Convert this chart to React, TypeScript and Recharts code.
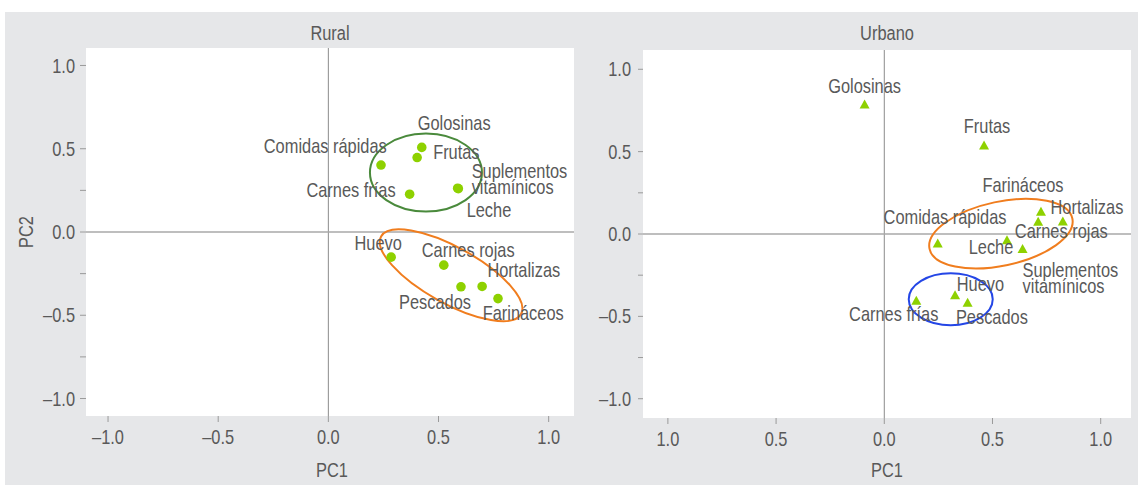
import React from 'react';
import {
  ScatterChart,
  Scatter,
  XAxis,
  YAxis,
  CartesianGrid,
  ReferenceLine,
  ReferenceDot,
  Label,
} from 'recharts';

// ---------- data ----------
const RURAL_FOODS = ['Golosinas', 'Frutas', 'Comidas rápidas', 'Carnes frías', 'Suplementos vitamínicos', 'Leche', 'Huevo', 'Carnes rojas', 'Pescados', 'Hortalizas', 'Farináceos'];
const RURAL_PC1 = [0.424, 0.403, 0.239, 0.369, 0.587, 0.59, 0.285, 0.524, 0.602, 0.698, 0.77];
const RURAL_PC2 = [0.508, 0.447, 0.402, 0.227, 0.263, 0.26, -0.151, -0.199, -0.329, -0.327, -0.4];

const URBAN_FOODS = ['Golosinas', 'Frutas', 'Farináceos', 'Carnes rojas', 'Hortalizas', 'Comidas rápidas', 'Leche', 'Suplementos vitamínicos', 'Huevo', 'Pescados', 'Carnes frías'];
const URBAN_PC1 = [-0.091, 0.461, 0.724, 0.711, 0.825, 0.247, 0.567, 0.639, 0.327, 0.385, 0.148];
const URBAN_PC2 = [0.788, 0.54, 0.138, 0.077, 0.079, -0.056, -0.035, -0.089, -0.37, -0.415, -0.403];

const X_TICKS = [-1, -0.5, 0, 0.5, 1];
const Y_TICKS = [-1, -0.75, -0.5, -0.25, 0, 0.25, 0.5, 1];

// group ellipses: centre in data units
const RURAL_GROUPS = [
  { cx: 0.443, cy: 0.357, color: '#4a8a3c' },
  { cx: 0.557, cy: -0.26, color: '#f07d1e' },
];
const URBAN_GROUPS = [
  { cx: 0.539, cy: 0.002, color: '#f07d1e' },
  { cx: 0.307, cy: -0.396, color: '#2446e6' },
];

// ---------- layout / style ----------
const RURAL_ELLIPSE_SHAPE = [
  { rx: 56, ry: 39, rot: 0 },
  { rx: 80, ry: 28, rot: 29 },
];
const URBAN_ELLIPSE_SHAPE = [
  { rx: 73, ry: 32, rot: -12 },
  { rx: 42, ry: 26, rot: 0 },
];

type Anchor = 'start' | 'middle' | 'end';
type LabelPos = { dx: number; dy: number; anchor: Anchor; wrap?: number };

const RURAL_LABELS: Record<string, LabelPos> = {
  'Golosinas': { dx: -4, dy: -17, anchor: 'start' },
  'Frutas': { dx: 16, dy: 1, anchor: 'start' },
  'Comidas rápidas': { dx: 5.7, dy: -12.5, anchor: 'end' },
  'Carnes frías': { dx: -14, dy: 3, anchor: 'end' },
  'Suplementos vitamínicos': { dx: 14, dy: -10.7, anchor: 'start', wrap: 16.4 },
  'Leche': { dx: 8.3, dy: 28, anchor: 'start' },
  'Huevo': { dx: 10.7, dy: -7.3, anchor: 'end' },
  'Carnes rojas': { dx: -22, dy: -8.6, anchor: 'start' },
  'Hortalizas': { dx: 5.3, dy: -9, anchor: 'start' },
  'Pescados': { dx: 10, dy: 22, anchor: 'end' },
  'Farináceos': { dx: -15.3, dy: 21, anchor: 'start' },
};

const URBAN_LABELS: Record<string, LabelPos> = {
  'Golosinas': { dx: 0, dy: -11.6, anchor: 'middle' },
  'Frutas': { dx: 3, dy: -11.7, anchor: 'middle' },
  'Farináceos': { dx: -18, dy: -19.6, anchor: 'middle' },
  'Hortalizas': { dx: -12.3, dy: -6.7, anchor: 'start' },
  'Carnes rojas': { dx: -23.3, dy: 17, anchor: 'start' },
  'Comidas rápidas': { dx: 7.3, dy: -19.3, anchor: 'middle' },
  'Leche': { dx: 6.3, dy: 14.6, anchor: 'end' },
  'Suplementos vitamínicos': { dx: 0, dy: 28, anchor: 'start', wrap: 16 },
  'Huevo': { dx: 1.7, dy: -4.3, anchor: 'start' },
  'Pescados': { dx: -11.7, dy: 22, anchor: 'start' },
  'Carnes frías': { dx: 22, dy: 20.4, anchor: 'end' },
};

const FONT = "'Liberation Sans', Arial, sans-serif";
const TEXT = '#595959';
const POINT = '#8ed100';
const FS = 20;
const NARROW = 0.82;

const ruralData = RURAL_FOODS.map((name, i) => ({ name, x: RURAL_PC1[i], y: RURAL_PC2[i] }));
const urbanData = URBAN_FOODS.map((name, i) => ({ name, x: URBAN_PC1[i], y: URBAN_PC2[i] }));

const fmt = (v: number) => (v < 0 ? '\u2013' : '') + Math.abs(v).toFixed(1);
const fmtAbs = (v: number) => Math.abs(v).toFixed(1);
const fmtY = (v: number) => (Math.abs(v * 2 - Math.round(v * 2)) < 1e-6 ? fmt(v) : '');

function NText(props: { x: number; y: number; anchor: Anchor; dy?: string; rotate?: number; children: React.ReactNode }) {
  const { x, y, anchor, dy, rotate, children } = props;
  const tf = `translate(${x} ${y})${rotate ? ` rotate(${rotate})` : ''} scale(${NARROW} 1)`;
  return (
    <text transform={tf} x={0} y={0} dy={dy} textAnchor={anchor} fontSize={FS} fill={TEXT} fontFamily={FONT}>
      {children}
    </text>
  );
}

function renderLabel(name: string, cx: number, cy: number, pos: LabelPos) {
  if (!pos) return null;
  if (pos.wrap) {
    const parts = name.split(' ');
    return (
      <NText x={cx + pos.dx} y={cy + pos.dy} anchor={pos.anchor}>
        <tspan x={0}>{parts[0]}</tspan>
        <tspan x={0} dy={pos.wrap}>{parts.slice(1).join(' ')}</tspan>
      </NText>
    );
  }
  return (
    <NText x={cx + pos.dx} y={cy + pos.dy} anchor={pos.anchor}>
      {name}
    </NText>
  );
}

const circleShape = (labels: Record<string, LabelPos>) => (props: any) => {
  const { cx, cy, payload } = props;
  return (
    <g>
      <circle cx={cx} cy={cy} r={4.8} fill={POINT} />
      {renderLabel(payload.name, cx, cy, labels[payload.name])}
    </g>
  );
};

const triangleShape = (labels: Record<string, LabelPos>) => (props: any) => {
  const { cx, cy, payload } = props;
  const pts = `${cx},${cy - 4.6} ${cx - 5},${cy + 4.4} ${cx + 5},${cy + 4.4}`;
  return (
    <g>
      <polygon points={pts} fill={POINT} />
      {renderLabel(payload.name, cx, cy, labels[payload.name])}
    </g>
  );
};

const ellipseShape = (s: { rx: number; ry: number; rot: number }, color: string) => (p: any) => (
  <ellipse
    cx={p.cx}
    cy={p.cy}
    rx={s.rx}
    ry={s.ry}
    transform={`rotate(${s.rot} ${p.cx} ${p.cy})`}
    fill="none"
    stroke={color}
    strokeWidth={2}
  />
);

const xTick = (formatter: (v: number) => string) => (props: any) => {
  const { x, y, payload } = props;
  return (
    <NText x={x} y={y} anchor="middle" dy="0.71em">
      {formatter(payload.value)}
    </NText>
  );
};

const yTick = (props: any) => {
  const { x, y, payload } = props;
  const s = fmtY(payload.value);
  if (!s) return <g />;
  return (
    <NText x={x} y={y} anchor="end" dy="0.355em">
      {s}
    </NText>
  );
};

const axisTitleX = (cxOffset: number) => (props: any) => {
  const vb = props.viewBox;
  return (
    <NText x={vb.x + vb.width / 2 + cxOffset} y={477} anchor="middle">
      PC1
    </NText>
  );
};

const axisTitleY = (props: any) => {
  const vb = props.viewBox;
  return (
    <NText x={33} y={vb.y + vb.height / 2} anchor="middle" rotate={-90}>
      PC2
    </NText>
  );
};

const titleStyle: React.CSSProperties = {
  position: 'absolute',
  width: 200,
  top: 21,
  textAlign: 'center',
  fontSize: FS,
  color: TEXT,
  lineHeight: '24px',
  fontFamily: FONT,
  transform: `scaleX(${NARROW})`,
};

export default function App() {
  return (
    <div style={{ position: 'absolute', left: 0, top: 0, width: 1138, height: 485, fontFamily: FONT, background: '#fff' }}>
      <div style={{ position: 'absolute', left: 5, top: 12, width: 1133, height: 473, background: '#e6e7e9' }} />
      <div style={{ ...titleStyle, left: 230 }}>Rural</div>
      <div style={{ ...titleStyle, left: 787 }}>Urbano</div>

      <div style={{ position: 'absolute', left: 0, top: 0 }}>
        <ScatterChart width={580} height={485} margin={{ top: 48, right: 6, bottom: 19, left: 26 }}>
          <CartesianGrid fill="#ffffff" stroke="none" horizontal={false} vertical={false} />
          <XAxis
            type="number"
            dataKey="x"
            domain={[-1.1, 1.115]}
            ticks={X_TICKS}
            axisLine={false}
            tickLine={{ stroke: '#9a9a9a' }}
            tickSize={6}
            tickMargin={8}
            height={50}
            tick={xTick(fmt)}
            interval={0}
          >
            <Label content={axisTitleX(2)} />
          </XAxis>
          <YAxis
            type="number"
            dataKey="y"
            domain={[-1.105, 1.105]}
            ticks={Y_TICKS}
            axisLine={false}
            tickLine={{ stroke: '#9a9a9a' }}
            tickSize={6}
            tickMargin={5}
            width={60}
            tick={yTick}
            interval={0}
          >
            <Label content={axisTitleY} />
          </YAxis>
          <ReferenceLine x={0} stroke="#8c8c8c" strokeWidth={1} />
          <ReferenceLine y={0} stroke="#a8a8a8" strokeWidth={1.5} />
          {RURAL_GROUPS.map((g, i) => (
            <ReferenceDot key={i} x={g.cx} y={g.cy} r={1} shape={ellipseShape(RURAL_ELLIPSE_SHAPE[i], g.color)} />
          ))}
          <Scatter data={ruralData} isAnimationActive={false} shape={circleShape(RURAL_LABELS)} />
        </ScatterChart>
      </div>

      <div style={{ position: 'absolute', left: 580, top: 0 }}>
        <ScatterChart width={558} height={485} margin={{ top: 50, right: 7, bottom: 17, left: 3 }}>
          <CartesianGrid fill="#ffffff" stroke="none" horizontal={false} vertical={false} />
          <XAxis
            type="number"
            dataKey="x"
            domain={[-1.115, 1.14]}
            ticks={X_TICKS}
            axisLine={false}
            tickLine={{ stroke: '#9a9a9a' }}
            tickSize={6}
            tickMargin={8}
            height={50}
            tick={xTick(fmtAbs)}
            interval={0}
          >
            <Label content={axisTitleX(0)} />
          </XAxis>
          <YAxis
            type="number"
            dataKey="y"
            domain={[-1.117, 1.117]}
            ticks={Y_TICKS}
            axisLine={false}
            tickLine={{ stroke: '#9a9a9a' }}
            tickSize={5}
            tickMargin={7}
            width={60}
            tick={yTick}
            interval={0}
          />
          <ReferenceLine x={0} stroke="#8c8c8c" strokeWidth={1} />
          <ReferenceLine y={0} stroke="#a8a8a8" strokeWidth={1.5} />
          {URBAN_GROUPS.map((g, i) => (
            <ReferenceDot key={i} x={g.cx} y={g.cy} r={1} shape={ellipseShape(URBAN_ELLIPSE_SHAPE[i], g.color)} />
          ))}
          <Scatter data={urbanData} isAnimationActive={false} shape={triangleShape(URBAN_LABELS)} />
        </ScatterChart>
      </div>
    </div>
  );
}
